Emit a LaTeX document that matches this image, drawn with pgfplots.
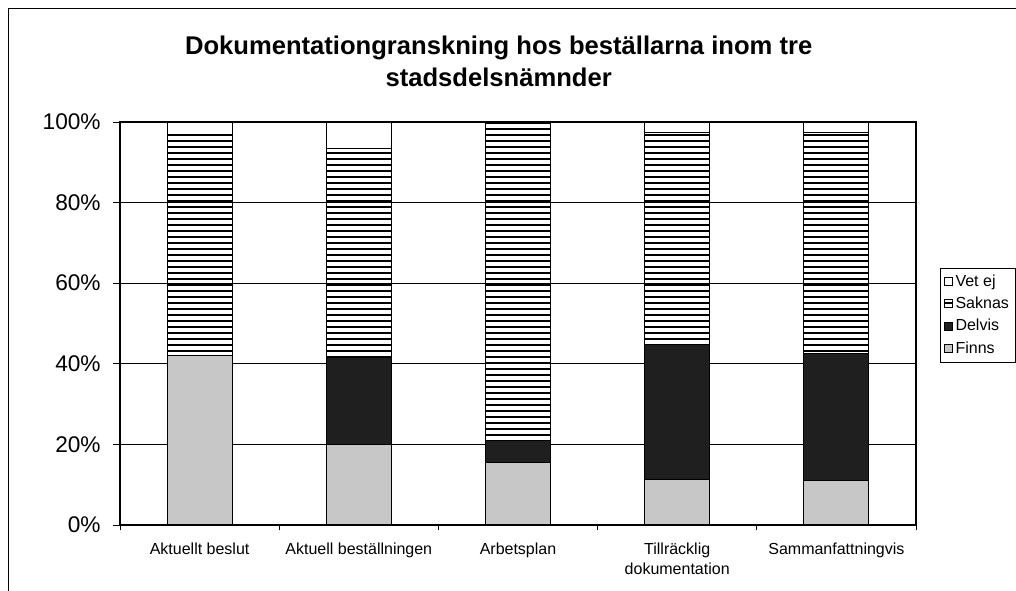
\documentclass[border=0pt]{standalone}
\usepackage{pgfplots}
\pgfplotsset{compat=1.18}
\usepackage{fontspec}
\setmainfont{Liberation Sans}
\usetikzlibrary{patterns.meta}
\begin{document}
\begin{tikzpicture}
\useasboundingbox (0,0) rectangle (762pt,443.25pt);
\clip (0,0) rectangle (762pt,443.25pt);
\fill[white] (0,0) rectangle (762pt,443.25pt);
\draw[line width=0.6pt] (6pt,-2pt) -- (6pt,437.25pt) -- (770pt,437.25pt);
\node[align=center, font=\bfseries\fontsize{19.2}{24}\selectfont] at (374pt,397.5pt)
  {Dokumentationgranskning hos beställarna inom tre\\stadsdelsnämnder};
\begin{axis}[
  at={(90pt,49.5pt)}, anchor=south west,
  scale only axis, width=597pt, height=302.25pt,
  ybar stacked, bar width=48.75pt,
  xmin=-0.5, xmax=4.5, ymin=0, ymax=100,
  axis line style={line width=0.8pt},
  xtick pos=bottom, ytick pos=left,
  xtick={0,1,2,3,4},
  xticklabels={Aktuellt beslut, Aktuell beställningen, Arbetsplan, {Tillräcklig\\dokumentation}, Sammanfattningvis},
  xticklabel style={align=center, font=\fontsize{12}{15}\selectfont, yshift=-5pt},
  major x tick style={draw=none},
  minor xtick={-0.5,0.5,1.5,2.5,3.5,4.5},
  minor tick length=4pt,
  minor x tick style={line width=0.6pt, black},
  ytick={0,20,40,60,80,100},
  yticklabel={\pgfmathprintnumber{\tick}\%},
  yticklabel style={font=\fontsize{17}{19}\selectfont, xshift=-6pt},
  /pgf/number format/assume math mode=true,
  tick align=outside, major tick length=5pt,
  major y tick style={line width=0.6pt, black},
  ymajorgrids, grid style={black, line width=0.6pt},
  legend style={at={(1.03,0.638)}, anchor=north west, draw=black, line width=0.5pt,
    font=\fontsize{12}{13.5}\selectfont, row sep=2.5pt, inner sep=3pt,
    cells={anchor=west}},
  reverse legend,
  legend image code/.code={\draw[#1, line width=0.5pt] (0pt,-2.8pt) rectangle (6pt,3.2pt);},
]
\addplot[fill=black!22, draw=black, line width=0.8pt] coordinates {(0,42) (1,20) (2,15.5) (3,11.2) (4,11)};
\addplot[fill=black!88, draw=black, line width=0.8pt] coordinates {(0,0) (1,21.5) (2,5.5) (3,33.7) (4,31.5)};
\addplot[pattern={Lines[angle=0,distance=4.5pt,line width=1.7pt]}, draw=black, line width=0.8pt] coordinates {(0,54.8) (1,52) (2,79) (3,52.4) (4,55)};
\addplot[fill=white, draw=black, line width=0.8pt] coordinates {(0,3.2) (1,6.5) (2,0) (3,2.7) (4,2.5)};
\legend{Finns, Delvis, Saknas, Vet ej}
\end{axis}
\end{tikzpicture}
\end{document}
